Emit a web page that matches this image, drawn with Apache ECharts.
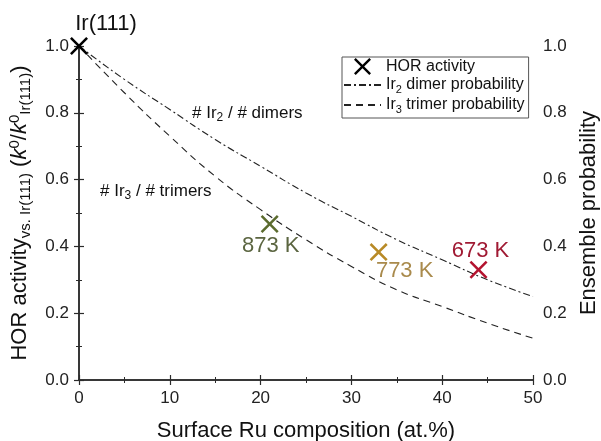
<!DOCTYPE html>
<html>
<head>
<meta charset="utf-8">
<script src="https://cdn.jsdelivr.net/npm/echarts@6/dist/echarts.min.js"></script>
<style>
  html, body { margin: 0; padding: 0; background: #fff; }
  #main { width: 601px; height: 441px; }
</style>
</head>
<body>
<div id="main"></div>
<script>
// ensemble probability curves
var compGrid = [0, 5, 10, 15, 20, 25, 30, 35, 40, 45, 50];
var dimerProb = [1.00, 0.90, 0.81, 0.72, 0.64, 0.56, 0.49, 0.42, 0.36, 0.30, 0.25];
var trimerProb = [1.00, 0.86, 0.73, 0.61, 0.51, 0.42, 0.34, 0.27, 0.22, 0.17, 0.125];

// HOR activity points
var hotX = [0, 21, 33, 44];
var hotY = [1.0, 0.467, 0.383, 0.33];
var hotLabels = ['Ir(111)', '873 K', '773 K', '673 K'];

var xTicks = [0, 10, 20, 30, 40, 50];
var yTicks = [0.0, 0.2, 0.4, 0.6, 0.8, 1.0];

var markColors = ['#000000', '#5b6b2e', '#b88a26', '#b3132f'];
var textColors = ['#111111', '#5b6540', '#a98a4c', '#a01a33'];
var labelPos = [
    {position: 'top', offset: [27, 2]},
    {position: 'bottom', offset: [1, -2]},
    {position: 'bottom', offset: [26, -5]},
    {position: 'top', offset: [2, 5]}
];

var crossPath = 'path://M0,2L2,0L10,8L18,0L20,2L12,10L20,18L18,20L10,12L2,20L0,18L8,10Z';

function pairs(xs, ys) {
    var out = [];
    for (var i = 0; i < xs.length; i++) {
        out.push([xs[i], ys[i]]);
    }
    return out;
}

var hotData = [];
for (var i = 0; i < hotX.length; i++) {
    hotData.push({
        value: [hotX[i], hotY[i]],
        itemStyle: {color: markColors[i]},
        label: {
            show: true,
            formatter: hotLabels[i],
            position: labelPos[i].position,
            offset: labelPos[i].offset,
            distance: 4,
            color: textColors[i],
            fontSize: 22
        }
    });
}

var axisCol = '#2b2b2b';
var tickSize = 17;
var nameRich = {
    n: {fontSize: 22, lineHeight: 26},
    i: {fontSize: 22, lineHeight: 26, fontStyle: 'italic'},
    sub: {fontSize: 15, lineHeight: 15, verticalAlign: 'bottom'},
    sup: {fontSize: 15, lineHeight: 15, verticalAlign: 'top'}
};

function tickStyle() {
    return {
        axisLine: {show: true, lineStyle: {color: axisCol, width: 1.5}},
        axisTick: {length: 5, lineStyle: {color: axisCol, width: 1.2}},
        minorTick: {show: true, splitNumber: 2, length: 3, lineStyle: {color: axisCol}},
        splitLine: {show: false}
    };
}

var myChart = echarts.init(document.getElementById('main'));
var option = {
    animation: false,
    textStyle: {fontFamily: 'Liberation Sans, Arial, sans-serif'},
    grid: {left: 79, right: 68, top: 46, bottom: 61, containLabel: false, outerBoundsMode: 'none'},
    legend: {
        orient: 'vertical',
        left: 342,
        top: 57,
        padding: [1, 4, 3, 1],
        itemGap: 2,
        itemWidth: 37,
        itemHeight: 17,
        borderColor: '#555',
        borderWidth: 1,
        data: [
            {name: 'HOR activity'},
            {name: 'Ir2 dimer probability', itemStyle: {opacity: 0}},
            {name: 'Ir3 trimer probability', itemStyle: {opacity: 0}}
        ],
        textStyle: {
            fontSize: 16,
            color: '#111',
            rich: {
                n: {fontSize: 16, lineHeight: 20},
                s: {fontSize: 11, lineHeight: 11, verticalAlign: 'bottom'}
            }
        },
        formatter: function (name) {
            if (name.indexOf('Ir2') == 0) return '{n|Ir}{s|2}{n| dimer probability}';
            if (name.indexOf('Ir3') == 0) return '{n|Ir}{s|3}{n| trimer probability}';
            return '{n|' + name + '}';
        }
    },
    xAxis: [echarts.util.merge({
        type: 'value',
        min: 0, max: 50, interval: 10,
        name: 'Surface Ru composition (at.%)',
        nameLocation: 'middle',
        nameGap: 40,
        nameTextStyle: {fontSize: 22, color: '#111'},
        axisLabel: {
            margin: 10,
            fontSize: tickSize,
            color: '#222',
            formatter: function (v) { return xTicks.indexOf(v) >= 0 ? String(v) : ''; }
        }
    }, tickStyle()), echarts.util.merge({
        type: 'value',
        position: 'top',
        min: 0, max: 50, interval: 10,
        axisLabel: {show: false}
    }, tickStyle())],
    yAxis: [echarts.util.merge({
        type: 'value',
        min: 0, max: 1, interval: 0.2,
        name: '{n|HOR activity}{sub|vs. Ir(111)}{n| (}{i|k}{sup|0}{n|/}{i|k}{sup|0}{sub|Ir(111)}{n|)}',
        nameLocation: 'middle',
        nameGap: 46,
        nameTextStyle: {fontSize: 22, color: '#111', rich: nameRich},
        axisLabel: {
            margin: 10,
            fontSize: tickSize,
            color: '#222',
            formatter: function (v) { return v.toFixed(1); }
        }
    }, tickStyle()), echarts.util.merge({
        type: 'value',
        position: 'right',
        min: 0, max: 1, interval: 0.2,
        name: 'Ensemble probability',
        nameLocation: 'middle',
        nameGap: 45,
        nameTextStyle: {fontSize: 22, color: '#111'},
        axisLabel: {
            margin: 10,
            fontSize: tickSize,
            color: '#222',
            formatter: function (v) { return v.toFixed(1); }
        }
    }, tickStyle())],
    graphic: [{
        type: 'text',
        left: 192,
        top: 105,
        style: {
            text: '{n|# Ir}{s|2}{n| / # dimers}',
            fill: '#111',
            rich: {
                n: {fontSize: 17, lineHeight: 20, fill: '#111'},
                s: {fontSize: 12, lineHeight: 12, verticalAlign: 'bottom', fill: '#111'}
            }
        }
    }, {
        type: 'text',
        left: 100,
        top: 183,
        style: {
            text: '{n|# Ir}{s|3}{n| / # trimers}',
            fill: '#111',
            rich: {
                n: {fontSize: 17, lineHeight: 20, fill: '#111'},
                s: {fontSize: 12, lineHeight: 12, verticalAlign: 'bottom', fill: '#111'}
            }
        }
    }],
    series: [{
        name: 'Ir2 dimer probability',
        type: 'line',
        smooth: true,
        symbol: 'none',
        data: pairs(compGrid, dimerProb),
        itemStyle: {color: '#222'},
        lineStyle: {color: '#222', width: 1.1, type: [7, 3, 2, 3]},
        z: 2
    }, {
        name: 'Ir3 trimer probability',
        type: 'line',
        smooth: true,
        symbol: 'none',
        data: pairs(compGrid, trimerProb),
        itemStyle: {color: '#222'},
        lineStyle: {color: '#222', width: 1.1, type: [7, 5]},
        z: 2
    }, {
        name: 'HOR activity',
        type: 'scatter',
        symbol: crossPath,
        symbolSize: 18,
        symbolKeepAspect: true,
        itemStyle: {color: '#000', opacity: 1},
        data: hotData,
        z: 5
    }]
};
myChart.setOption(option);
</script>
</body>
</html>
